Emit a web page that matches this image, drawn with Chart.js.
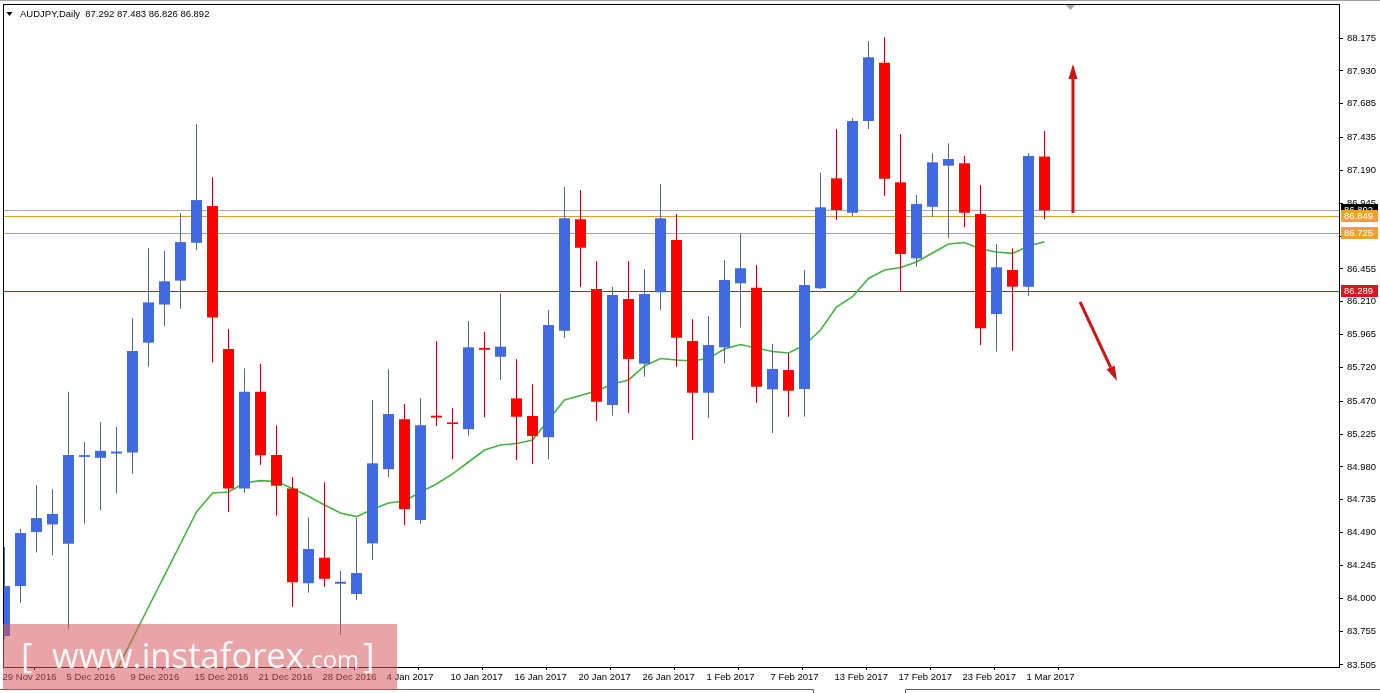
<!DOCTYPE html>
<html><head><meta charset="utf-8">
<script src="https://cdn.jsdelivr.net/npm/chart.js@4.4.1/dist/chart.umd.min.js"></script>
<style>html,body{margin:0;padding:0;background:#fff;overflow:hidden}#wrap{position:relative;width:1380px;height:693px}</style>
</head><body><div id="wrap"><canvas id="c" width="1380" height="693"></canvas></div>
<script>
// ---------- data ----------
const symbolTitle = "AUDJPY,Daily";
const headerOHLC = ["87.292", "87.483", "86.826", "86.892"];
const dateIdx = [0, 4, 8, 12, 16, 20, 24, 28, 32, 36, 40, 44, 48, 52, 56, 60, 64];
const dateLabels = ["29 Nov 2016","5 Dec 2016","9 Dec 2016","15 Dec 2016","21 Dec 2016","28 Dec 2016","4 Jan 2017","10 Jan 2017","16 Jan 2017","20 Jan 2017","26 Jan 2017","1 Feb 2017","7 Feb 2017","13 Feb 2017","17 Feb 2017","23 Feb 2017","1 Mar 2017"];
const priceTicks = [88.175,87.930,87.685,87.435,87.190,86.945,86.700,86.455,86.210,85.965,85.720,85.470,85.225,84.980,84.735,84.490,84.245,84.000,83.755,83.505];
const priceMin = 83.490, priceMax = 88.421;
const barMin = -0.03125, barMax = 83.46875;

const opens  = [83.720,84.093,84.495,84.552,84.408,85.055,85.048,85.080,85.088,85.906,86.190,86.368,86.650,86.924,85.859,84.819,85.540,85.069,84.819,84.114,84.304,84.110,84.034,84.411,84.963,85.335,84.585,85.362,85.312,85.261,85.866,85.801,85.491,85.360,85.201,85.995,86.825,86.306,85.442,86.231,85.749,86.281,86.670,85.918,85.533,85.871,86.348,86.315,85.558,85.702,85.561,86.311,87.130,86.874,87.557,87.991,87.100,86.534,86.918,87.224,87.242,86.864,86.119,86.447,86.323,87.292];
const highs  = [84.384,84.518,84.845,84.814,85.540,85.166,85.315,85.278,86.088,86.611,86.590,86.872,87.535,87.138,86.010,85.715,85.748,85.289,84.905,84.604,84.866,84.205,84.600,85.479,85.707,85.449,85.491,85.918,85.417,86.067,85.987,86.273,85.782,85.596,86.149,87.067,87.043,86.514,86.323,86.514,86.454,87.088,86.864,86.080,86.104,86.522,86.720,86.484,85.896,85.827,86.447,87.172,87.497,87.577,88.153,88.180,87.460,87.006,87.316,87.391,87.298,87.080,86.641,86.609,87.316,87.483];
const lows   = [83.700,83.967,84.343,84.322,83.769,84.557,84.656,84.782,84.931,85.727,86.028,86.159,86.595,85.759,84.644,84.788,84.996,84.618,83.938,84.043,84.087,83.729,83.989,84.287,84.903,84.548,84.555,85.285,85.037,85.213,85.350,85.628,85.032,85.002,85.037,85.938,86.318,85.325,85.362,85.384,85.652,86.149,85.727,85.181,85.343,85.752,86.017,85.459,85.233,85.354,85.354,86.306,86.819,86.849,87.497,87.000,86.291,86.472,86.840,86.683,86.765,85.888,85.839,85.846,86.256,86.826];
const closes = [84.093,84.488,84.599,84.630,85.069,85.068,85.100,85.095,85.843,86.206,86.363,86.655,86.968,86.093,84.819,85.540,85.067,84.840,84.121,84.369,84.147,84.125,84.190,85.007,85.374,84.665,85.290,85.348,85.300,85.871,85.853,85.876,85.354,85.211,86.037,86.832,86.613,85.466,86.261,85.784,86.268,86.832,85.943,85.533,85.888,86.373,86.460,85.578,85.710,85.548,86.335,86.914,86.894,87.557,88.031,87.127,86.566,86.939,87.249,87.274,86.874,86.013,86.467,86.323,87.296,86.892];
const maValues = [null,null,null,null,null,82.991,83.230,83.464,83.700,83.937,84.172,84.408,84.645,84.786,84.794,84.861,84.878,84.871,84.819,84.762,84.697,84.637,84.610,84.665,84.712,84.727,84.793,84.853,84.928,85.017,85.106,85.144,85.155,85.181,85.330,85.479,85.512,85.546,85.598,85.628,85.732,85.788,85.777,85.769,85.789,85.859,85.892,85.866,85.840,85.829,85.888,86.000,86.171,86.248,86.384,86.447,86.466,86.507,86.574,86.641,86.652,86.603,86.581,86.571,86.626,86.658];

const levelPrices = [86.892, 86.849, 86.725, 86.289];
const levelLabels = ["86.892", "86.849", "86.725", "86.289"];
const levelColors = ["#a8a8a8", "#e39b2c", "#e39b2c", "#d4101c"];
const levelBoxColors = ["#000000", "#f0a030", "#f0a030", "#e0101c"];

// arrows: [x0, price0, x1, price1] in bar index / price units
const upArrow = [66.78, 86.872, 66.78, 87.981];
const downArrow = [67.22, 86.209, 69.53, 85.620];

// ---------- build datasets ----------
const bullWicks = [], bearWicks = [], bullBodies = [], bearBodies = [];
opens.forEach((o, i) => {
  const c = closes[i];
  const w = {x: i, y: [lows[i], highs[i]]};
  const b = {x: i, y: [Math.min(o, c), Math.max(o, c)]};
  if (c >= o) { bullWicks.push(w); bullBodies.push(b); }
  else { bearWicks.push(w); bearBodies.push(b); }
});
const maData = maValues.map((v, i) => ({x: i, y: v}));

const FONT = '"Liberation Sans", Arial, sans-serif';

function drawArrow(ctx, x0, y0, x1, y1, headLen, headW) {
  const ang = Math.atan2(y1 - y0, x1 - x0);
  const bx = x1 - headLen * Math.cos(ang), by = y1 - headLen * Math.sin(ang);
  ctx.beginPath(); ctx.moveTo(x0, y0); ctx.lineTo(bx, by); ctx.stroke();
  ctx.beginPath(); ctx.moveTo(x1, y1);
  ctx.lineTo(bx + headW / 2 * Math.sin(ang), by - headW / 2 * Math.cos(ang));
  ctx.lineTo(bx - headW / 2 * Math.sin(ang), by + headW / 2 * Math.cos(ang));
  ctx.closePath(); ctx.fill();
}

const mt4Plugin = {
  id: 'mt4',
  beforeDatasetsDraw(chart) {
    const {ctx, chartArea: a, scales: {y}} = chart;
    ctx.save();
    ctx.beginPath(); ctx.rect(a.left, a.top, a.right - a.left, a.bottom - a.top); ctx.clip();
    ctx.lineWidth = 1;
    levelPrices.forEach((p, k) => {
      const py = Math.round(y.getPixelForValue(p)) + 0.5;
      ctx.strokeStyle = levelColors[k];
      ctx.beginPath(); ctx.moveTo(a.left, py); ctx.lineTo(a.right, py); ctx.stroke();
    });
    ctx.restore();
  },
  afterDatasetsDraw(chart) {
    const {ctx, scales: {x, y}} = chart;
    ctx.save();
    ctx.strokeStyle = '#cc1414'; ctx.fillStyle = '#cc1414'; ctx.lineWidth = 3;
    [upArrow, downArrow].forEach(a => {
      drawArrow(ctx, x.getPixelForValue(a[0]), y.getPixelForValue(a[1]),
                x.getPixelForValue(a[2]), y.getPixelForValue(a[3]), 15, 9);
    });
    ctx.restore();
  },
  afterDraw(chart) {
    const {ctx, chartArea: a, scales: {y}} = chart;
    ctx.save();
    // window top line
    ctx.fillStyle = '#a0a0a0'; ctx.fillRect(0, 0, 1380, 1);
    // frame
    ctx.strokeStyle = '#000'; ctx.lineWidth = 1;
    ctx.strokeRect(a.left - 0.5, a.top - 0.5, a.right - a.left, a.bottom - a.top + 1);
    // shift marker
    ctx.fillStyle = '#a8a8a8';
    ctx.beginPath(); ctx.moveTo(1066, a.top); ctx.lineTo(1075, a.top); ctx.lineTo(1070.5, a.top + 5); ctx.closePath(); ctx.fill();
    // price boxes
    ctx.font = '9.5px ' + FONT; ctx.textBaseline = 'middle'; ctx.textAlign = 'left';
    levelPrices.forEach((p, k) => {
      const py = Math.round(y.getPixelForValue(p));
      ctx.fillStyle = levelBoxColors[k];
      ctx.fillRect(a.right + 1, py - 6, 37, 12);
      ctx.fillStyle = '#fff';
      ctx.fillText(levelLabels[k], a.right + 4, py + 0.5);
    });
    // header
    ctx.fillStyle = '#000';
    ctx.beginPath(); ctx.moveTo(6.5, 12); ctx.lineTo(12.5, 12); ctx.lineTo(9.5, 16); ctx.closePath(); ctx.fill();
    ctx.textBaseline = 'alphabetic';
    ctx.fillText(symbolTitle + '  ' + headerOHLC.join(' '), 20, 17);
    // bottom window strip
    ctx.strokeStyle = '#606060';
    ctx.beginPath();
    ctx.moveTo(0, 689.5); ctx.lineTo(813.5, 689.5); ctx.lineTo(813.5, 693);
    ctx.moveTo(905.5, 693); ctx.lineTo(905.5, 689.5); ctx.lineTo(1380, 689.5);
    ctx.stroke();
    // watermark
    ctx.fillStyle = 'rgba(213,90,95,0.55)';
    ctx.fillRect(3, 624, 394, 66);
    ctx.fillStyle = 'rgba(255,255,255,0.93)';
    ctx.textBaseline = 'alphabetic';
    ctx.font = '35px "Open Sans", ' + FONT;
    ctx.fillText('[', 21, 668);
    ctx.fillText(']', 363, 668);
    ctx.font = '100px "Open Sans", ' + FONT;
    let w = ctx.measureText('www.instaforex').width;
    ctx.font = (100 * 252 / w).toFixed(2) + 'px "Open Sans", ' + FONT;
    ctx.fillText('www.instaforex', 52, 668);
    ctx.font = '100px "Open Sans", ' + FONT;
    w = ctx.measureText('.com').width;
    ctx.font = (100 * 54 / w).toFixed(2) + 'px "Open Sans", ' + FONT;
    ctx.fillText('.com', 305, 668);
    ctx.restore();
  }
};

new Chart(document.getElementById('c'), {
  type: 'bar',
  data: {
    datasets: [
      {type: 'line', data: maData, borderColor: '#43b53f', borderWidth: 1.6, pointRadius: 0, tension: 0, spanGaps: false, order: 3},
      {data: bullWicks, backgroundColor: '#4f6b8c', barThickness: 1, order: 2},
      {data: bearWicks, backgroundColor: '#b80000', barThickness: 1, order: 2},
      {data: bullBodies, backgroundColor: '#4169e1', barThickness: 11, order: 1},
      {data: bearBodies, backgroundColor: '#ff0000', barThickness: 11, order: 1}
    ]
  },
  options: {
    responsive: false, animation: false, devicePixelRatio: 1,
    layout: {padding: {left: 4, top: 5, right: 0, bottom: 0}},
    datasets: {bar: {grouped: false, borderWidth: 0, inflateAmount: 0}},
    plugins: {legend: {display: false}, tooltip: {enabled: false}},
    events: [],
    scales: {
      x: {
        type: 'linear', min: barMin, max: barMax, offset: false,
        afterBuildTicks: s => { s.ticks = dateIdx.map(i => ({value: i - 0.12})); },
        afterFit: s => { s.height = 26; s.paddingLeft = 0; s.paddingRight = 0; },
        grid: {drawOnChartArea: false, drawTicks: true, tickLength: 3, color: '#000', tickColor: '#000'},
        border: {display: false},
        ticks: {autoSkip: false, maxRotation: 0, align: 'start', padding: 2, color: '#000',
                font: {family: FONT, size: 9.5}, callback: (v, i) => dateLabels[i]}
      },
      y: {
        type: 'linear', position: 'right', min: priceMin, max: priceMax,
        afterBuildTicks: s => { s.ticks = priceTicks.map(v => ({value: v})); },
        afterFit: s => { s.width = 40; s.paddingTop = 0; s.paddingBottom = 0; },
        grid: {drawOnChartArea: false, drawTicks: true, tickLength: 3, color: '#000', tickColor: '#000'},
        border: {display: false},
        ticks: {padding: 4, color: '#000', font: {family: FONT, size: 9.5},
                callback: v => v.toFixed(3)}
      }
    }
  },
  plugins: [mt4Plugin]
});
</script></body></html>
